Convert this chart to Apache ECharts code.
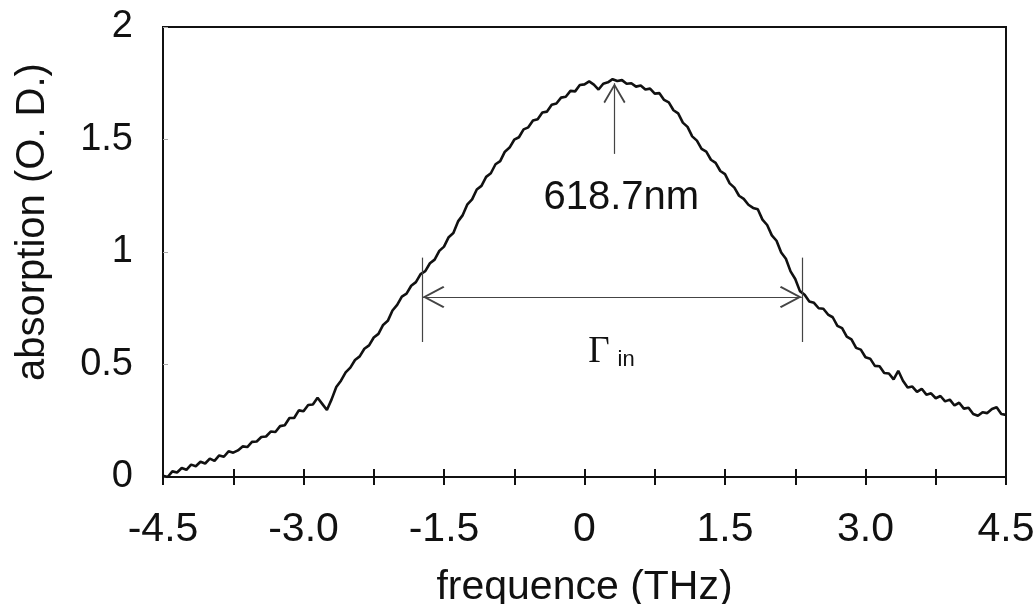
<!DOCTYPE html>
<html>
<head>
<meta charset="utf-8">
<script src="https://cdn.jsdelivr.net/npm/echarts@6/dist/echarts.min.js"></script>
<style>html,body{margin:0;padding:0;background:#fff}#c{width:1035px;height:604px}</style>
</head>
<body>
<div id="c"></div>
<script>
// ---- data ----
var freq = [
-4.50,-4.45,-4.40,-4.35,-4.30,-4.25,-4.20,-4.15,-4.10,-4.05,
-4.00,-3.95,-3.90,-3.85,-3.80,-3.75,-3.70,-3.65,-3.60,-3.55,
-3.50,-3.45,-3.40,-3.35,-3.30,-3.25,-3.20,-3.15,-3.10,-3.05,
-3.00,-2.95,-2.90,-2.85,-2.80,-2.75,-2.70,-2.65,-2.60,-2.55,
-2.50,-2.45,-2.40,-2.35,-2.30,-2.25,-2.20,-2.15,-2.10,-2.05,
-2.00,-1.95,-1.90,-1.85,-1.80,-1.75,-1.70,-1.65,-1.60,-1.55,
-1.50,-1.45,-1.40,-1.35,-1.30,-1.25,-1.20,-1.15,-1.10,-1.05,
-1.00,-0.95,-0.90,-0.85,-0.80,-0.75,-0.70,-0.65,-0.60,-0.55,
-0.50,-0.45,-0.40,-0.35,-0.30,-0.25,-0.20,-0.15,-0.10,-0.05,
0.00,0.05,0.10,0.15,0.20,0.25,0.30,0.35,0.40,0.45,
0.50,0.55,0.60,0.65,0.70,0.75,0.80,0.85,0.90,0.95,
1.00,1.05,1.10,1.15,1.20,1.25,1.30,1.35,1.40,1.45,
1.50,1.55,1.60,1.65,1.70,1.75,1.80,1.85,1.90,1.95,
2.00,2.05,2.10,2.15,2.20,2.25,2.30,2.35,2.40,2.45,
2.50,2.55,2.60,2.65,2.70,2.75,2.80,2.85,2.90,2.95,
3.00,3.05,3.10,3.15,3.20,3.25,3.30,3.35,3.40,3.45,
3.50,3.55,3.60,3.65,3.70,3.75,3.80,3.85,3.90,3.95,
4.00,4.05,4.10,4.15,4.20,4.25,4.30,4.35,4.40,4.45,
4.50];
var absorb = [
0.005,0.000,0.025,0.020,0.040,0.032,0.055,0.048,0.068,0.060,
0.082,0.072,0.096,0.090,0.114,0.108,0.118,0.136,0.133,0.156,
0.158,0.178,0.180,0.202,0.200,0.226,0.230,0.262,0.262,0.296,
0.292,0.320,0.322,0.352,0.325,0.298,0.345,0.400,0.428,0.465,
0.486,0.520,0.536,0.570,0.585,0.620,0.636,0.676,0.694,0.740,
0.765,0.802,0.815,0.850,0.866,0.902,0.915,0.950,0.966,1.005,
1.024,1.066,1.084,1.136,1.164,1.212,1.234,1.278,1.294,1.334,
1.350,1.390,1.404,1.446,1.464,1.499,1.510,1.545,1.554,1.584,
1.590,1.620,1.624,1.654,1.660,1.686,1.690,1.716,1.714,1.742,
1.745,1.758,1.744,1.722,1.748,1.754,1.768,1.760,1.764,1.748,
1.750,1.735,1.740,1.722,1.726,1.704,1.706,1.676,1.665,1.630,
1.616,1.575,1.556,1.514,1.495,1.458,1.446,1.410,1.396,1.360,
1.346,1.305,1.286,1.250,1.236,1.210,1.196,1.190,1.144,1.120,
1.074,1.050,0.998,0.970,0.914,0.880,0.826,0.810,0.780,0.774,
0.750,0.748,0.722,0.710,0.672,0.662,0.624,0.612,0.574,0.566,
0.532,0.526,0.494,0.492,0.462,0.460,0.434,0.472,0.428,0.398,
0.402,0.378,0.392,0.366,0.372,0.350,0.360,0.336,0.344,0.318,
0.330,0.304,0.308,0.280,0.272,0.288,0.284,0.302,0.310,0.280,
0.276];
var xTickValues = [-4.5, -3.0, -1.5, 0, 1.5, 3.0, 4.5];
var xTickLabels = ['-4.5', '-3.0', '-1.5', '0', '1.5', '3.0', '4.5'];
var yTickValues = [0, 0.5, 1, 1.5, 2];
var yTickLabels = ['0', '0.5', '1', '1.5', '2'];
var widthMarkers = [-1.73, 2.32];      // FWHM marker positions (THz)
var widthMarkerSpan = [0.60, 0.975];   // vertical extent of marker lines
var widthLevel = 0.80;                 // level of double arrow
var peakFreq = 0.32;                   // peak arrow position
var peakArrowSpan = [1.436, 1.75];
var peakLabel = '618.7nm';
var peakLabelPos = [0.393, 1.241];
var gammaLabelPos = [0.287, 0.553];

function lookup(vals, labels, v) {
  for (var i = 0; i < vals.length; i++) if (Math.abs(vals[i] - v) < 1e-6) return labels[i];
  return '';
}

var chevron = 'path://M0,-10 L0.02,-10 L0,-9.98 Z M0,0 L6,9.4 L5.2,10 L0,1.8 L-5.2,10 L-6,9.4 Z';
var annColor = '#444';

var chart = echarts.init(document.getElementById('c'), null, {renderer: 'canvas'});
var FONT = 'Liberation Sans, Arial, sans-serif';
chart.setOption({
  animation: false,
  backgroundColor: '#fff',
  grid: {left: 163, right: 29, top: 27, bottom: 127, show: true, borderColor: '#111', borderWidth: 2,
    containLabel: false, outerBoundsMode: 'none'},
  xAxis: [{
    type: 'value', min: -4.5, max: 4.5, interval: 0.75,
    name: 'frequence (THz)', nameLocation: 'middle', nameGap: 90,
    nameTextStyle: {fontSize: 41, color: '#111', fontFamily: FONT},
    axisLine: {show: true, onZero: false, lineStyle: {color: '#111', width: 2}},
    axisTick: {show: true, inside: false, length: 8, lineStyle: {color: '#111', width: 2}},
    axisLabel: {fontSize: 41, color: '#111', fontFamily: FONT, margin: 32,
      formatter: function (v) { return lookup(xTickValues, xTickLabels, v); }},
    splitLine: {show: false}
  }, {
    type: 'value', min: -4.5, max: 4.5, interval: 0.75, position: 'bottom',
    axisLine: {show: false, onZero: false},
    axisTick: {show: true, inside: true, length: 8, lineStyle: {color: '#111', width: 2}},
    axisLabel: {show: false}, splitLine: {show: false}
  }],
  yAxis: {
    type: 'value', min: 0, max: 2, interval: 0.5,
    name: 'absorption (O. D.)', nameLocation: 'middle', nameGap: 110,
    nameTextStyle: {fontSize: 40, color: '#111', fontFamily: FONT, padding: [0, 0, 0, 60]},
    axisLine: {show: true, onZero: false, lineStyle: {color: '#111', width: 2}},
    axisTick: {show: true, inside: true, length: 5, lineStyle: {color: '#aaa', width: 1}},
    axisLabel: {fontSize: 38, color: '#111', fontFamily: FONT, margin: 30,
      formatter: function (v) { return lookup(yTickValues, yTickLabels, v); }},
    splitLine: {show: false}
  },
  series: [{
    type: 'line',
    data: freq.map(function (f, i) { return [f, absorb[i]]; }),
    showSymbol: false,
    lineStyle: {color: '#111', width: 2.6},
    z: 3,
    markLine: {
      silent: true,
      animation: false,
      symbol: 'none',
      lineStyle: {color: annColor, width: 1.2, type: 'solid'},
      label: {show: false},
      data: [
        [{coord: [widthMarkers[0], widthMarkerSpan[0]], symbol: 'none'},
         {coord: [widthMarkers[0], widthMarkerSpan[1]], symbol: 'none'}],
        [{coord: [widthMarkers[1], widthMarkerSpan[0]], symbol: 'none'},
         {coord: [widthMarkers[1], widthMarkerSpan[1]], symbol: 'none'}],
        [{coord: [widthMarkers[0], widthLevel], symbol: chevron, symbolSize: [22, 44]},
         {coord: [widthMarkers[1], widthLevel], symbol: chevron, symbolSize: [22, 44]}],
        [{coord: [peakFreq, peakArrowSpan[0]], symbol: 'none'},
         {coord: [peakFreq, peakArrowSpan[1]], symbol: chevron, symbolSize: [22, 40]}]
      ]
    },
    markPoint: {
      silent: true,
      animation: false,
      symbol: 'rect', symbolSize: 1,
      itemStyle: {color: 'rgba(0,0,0,0)'},
      data: [
        {coord: peakLabelPos, label: {show: true, position: 'inside', formatter: peakLabel,
          fontSize: 40, color: '#111', fontFamily: FONT}},
        {coord: gammaLabelPos, label: {show: true, position: 'inside', formatter: '{g|Γ}{s|in}',
          rich: {
            g: {fontFamily: 'Liberation Serif, Times New Roman, serif', fontSize: 37, color: '#111', verticalAlign: 'bottom'},
            s: {fontFamily: FONT, fontSize: 22, color: '#111', padding: [0, 0, 0, 8], verticalAlign: 'bottom'}
          }}}
      ]
    }
  }]
});
</script>
</body>
</html>
